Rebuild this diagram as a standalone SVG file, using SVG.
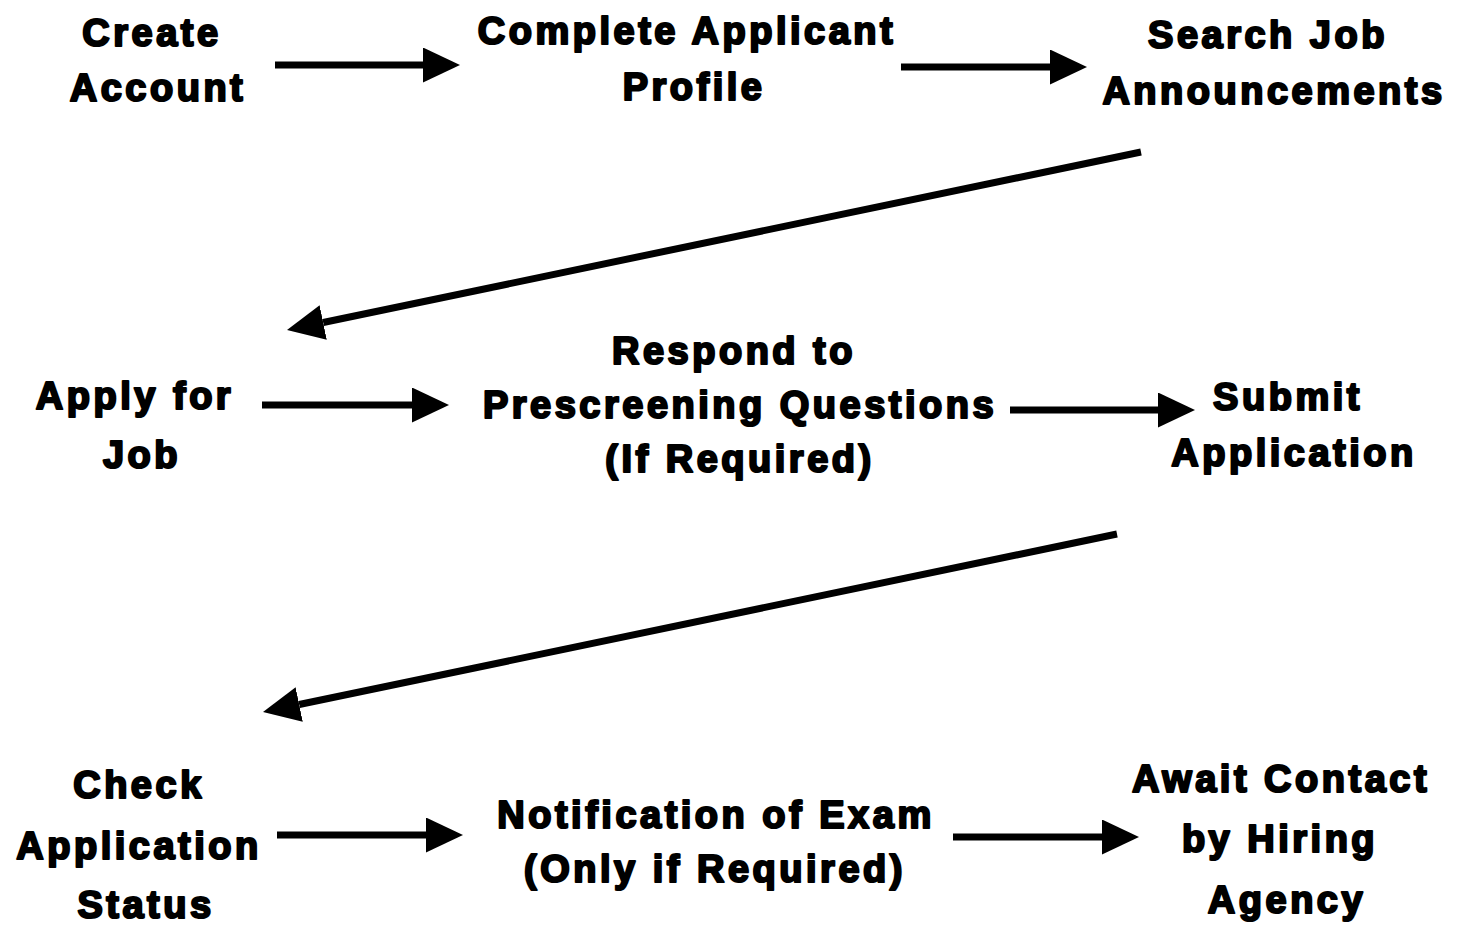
<svg xmlns="http://www.w3.org/2000/svg" width="1458" height="938" viewBox="0 0 1458 938">
<style>
text{font-family:"Liberation Sans",Arial,sans-serif;font-weight:bold;font-size:38px;letter-spacing:3.5px;fill:#000;stroke:#000;stroke-width:2.2;stroke-linejoin:round;text-anchor:middle}
.c{stroke:#000;stroke-width:7;fill:none;marker-end:url(#ah)}
</style>
<defs>
<marker id="ah" markerUnits="userSpaceOnUse" markerWidth="38" markerHeight="36" refX="0" refY="17.5" orient="auto" viewBox="0 0 38 36">
<path d="M0,0 L37,17.5 L0,35 Z" fill="#000"/>
</marker>
</defs>
<rect width="1458" height="938" fill="#fff"/>
<g id="connectors">
<line class="c" x1="275" y1="65" x2="423" y2="65"/>
<line class="c" x1="901" y1="67" x2="1050" y2="67"/>
<line class="c" x1="1141" y1="152" x2="323.2" y2="322.5"/>
<line class="c" x1="262" y1="405" x2="412" y2="405"/>
<line class="c" x1="1010" y1="410" x2="1158" y2="410"/>
<line class="c" x1="1117" y1="534" x2="299.2" y2="704.5"/>
<line class="c" x1="277" y1="835" x2="426" y2="835"/>
<line class="c" x1="953" y1="837" x2="1102" y2="837"/>
</g>
<g id="n1"><text x="152" y="46">Create</text><text x="158" y="101">Account</text></g>
<g id="n2"><text x="687" y="44">Complete Applicant</text><text x="694" y="100">Profile</text></g>
<g id="n3"><text x="1268" y="48">Search Job</text><text x="1274" y="104">Announcements</text></g>
<g id="n4"><text x="135" y="409">Apply for</text><text x="142" y="468">Job</text></g>
<g id="n5"><text x="734" y="364">Respond to</text><text x="740" y="418">Prescreening Questions</text><text x="740" y="472">(If Required)</text></g>
<g id="n6"><text x="1288" y="410">Submit</text><text x="1294" y="466">Application</text></g>
<g id="n7"><text x="139" y="798">Check</text><text x="139" y="859">Application</text><text x="146" y="918">Status</text></g>
<g id="n8"><text x="716" y="828">Notification of Exam</text><text x="715" y="882">(Only if Required)</text></g>
<g id="n9"><text x="1281" y="792">Await Contact</text><text x="1280" y="852">by Hiring</text><text x="1287" y="913">Agency</text></g>
</svg>
